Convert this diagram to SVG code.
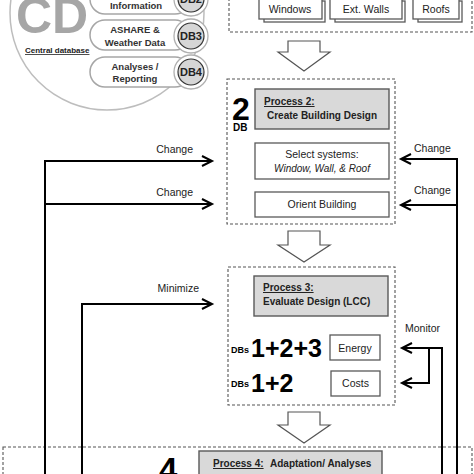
<svg xmlns="http://www.w3.org/2000/svg" width="474" height="474" viewBox="0 0 474 474">
<defs>
<marker id="ah" markerUnits="userSpaceOnUse" markerWidth="14" markerHeight="14" refX="11" refY="6" orient="auto">
<path d="M1,1 L11,6 L1,11" fill="none" stroke="#000" stroke-width="2"/>
</marker>
</defs>
<style>
text{font-family:"Liberation Sans",Arial,sans-serif;fill:#222}
.dash{fill:none;stroke:#555;stroke-width:1.1;stroke-dasharray:3,2}
.gbox{fill:#d9d9d9;stroke:#595959;stroke-width:1.4}
.wbox{fill:#fff;stroke:#595959;stroke-width:1.3}
.lbl{font-size:10.5px}
.b{font-weight:bold}
.c{text-anchor:middle}
.pill{fill:#fff;stroke:#a6a6a6;stroke-width:1.5}
.ring{fill:#fff;stroke:#b0b0b0;stroke-width:1.3}
.dbc{fill:#d6d6d6;stroke:#333;stroke-width:1.2}
.pt{font-size:9.5px;font-weight:bold;text-anchor:middle;fill:#333}
.dbt{font-size:11px;font-weight:bold;text-anchor:middle;fill:#222}
.conn{fill:none;stroke:#000;stroke-width:2}
.blk{fill:#fff;stroke:#555;stroke-width:1.2}
</style>
<rect width="474" height="474" fill="#fff"/>

<g id="central-db">
<circle cx="107" cy="13" r="97" fill="#fff" stroke="#bdbdbd" stroke-width="1.5"/>
<text x="16" y="33" font-size="50" font-weight="bold" style="fill:#a6a6a6">CD</text>
<text x="25" y="53" font-size="8" font-weight="bold" text-decoration="underline">Central database</text>
</g>
<g id="db2">
<rect class="pill" x="90" y="-16" width="100" height="30" rx="15"/>
<circle class="ring" cx="191" cy="-1" r="17"/>
<circle class="dbc" cx="191" cy="-1" r="13"/>
<text class="pt" x="136" y="9">Information</text>
<text class="dbt" x="191" y="3">DB2</text>
</g>
<g id="db3">
<rect class="pill" x="90" y="20" width="100" height="30" rx="15"/>
<circle class="ring" cx="191" cy="36" r="17"/>
<circle class="dbc" cx="191" cy="36" r="13"/>
<text class="pt" x="135" y="33">ASHARE &amp;</text>
<text class="pt" x="135" y="45.5">Weather Data</text>
<text class="dbt" x="191" y="40">DB3</text>
</g>
<g id="db4">
<rect class="pill" x="90" y="57" width="100" height="30" rx="15"/>
<circle class="ring" cx="191" cy="72" r="17"/>
<circle class="dbc" cx="191" cy="72" r="13"/>
<text class="pt" x="135" y="70">Analyses /</text>
<text class="pt" x="135" y="82">Reporting</text>
<text class="dbt" x="191" y="76">DB4</text>
</g>

<g id="process1">
<rect class="dash" x="229" y="-6" width="243" height="38"/>
<rect class="wbox" x="264" y="1" width="61" height="21"/>
<rect class="wbox" x="259" y="-5" width="63" height="24"/>
<text class="lbl c" x="290" y="12.5">Windows</text>
<rect class="wbox" x="335" y="1" width="70" height="21"/>
<rect class="wbox" x="330" y="-5" width="72" height="24"/>
<text class="lbl c" x="366" y="12.5">Ext. Walls</text>
<rect class="wbox" x="418" y="1" width="44" height="21"/>
<rect class="wbox" x="413" y="-5" width="46" height="24"/>
<text class="lbl c" x="436" y="12.5">Roofs</text>
</g>

<g id="flow-arrows">
<polygon class="blk" points="288,41 320,41 320,52 330,52 304,71 278,52 288,52"/>
<polygon class="blk" points="288,231 320,231 320,245 330,245 304,262 278,245 288,245"/>
<polygon class="blk" points="288,412 320,412 320,425 330,425 304,443 278,425 288,425"/>
</g>

<g id="process2">
<rect class="dash" x="227" y="79" width="168" height="145"/>
<text x="232" y="120" font-size="32" font-weight="bold" style="fill:#000">2</text>
<text x="233" y="131" font-size="10" font-weight="bold" style="fill:#000">DB</text>
<rect class="gbox" x="255" y="89" width="134" height="40"/>
<text class="b" x="264" y="105" font-size="10" text-decoration="underline">Process 2:</text>
<text class="b c" x="322" y="119" font-size="10">Create Building Design</text>
<rect class="wbox" x="255" y="143" width="134" height="36"/>
<text class="lbl c" x="322" y="158">Select systems:</text>
<text class="c" x="322" y="172" font-size="10" font-style="italic">Window, Wall, &amp; Roof</text>
<rect class="wbox" x="255" y="192" width="134" height="25"/>
<text class="lbl c" x="322" y="207.5">Orient Building</text>
</g>

<g id="process3">
<rect class="dash" x="228" y="267" width="167" height="138"/>
<rect class="gbox" x="254" y="276" width="134" height="40"/>
<text class="b" x="263" y="291" font-size="10" text-decoration="underline">Process 3:</text>
<text class="b" x="263" y="305" font-size="10">Evaluate Design (LCC)</text>
<text x="231" y="353" font-size="9" font-weight="bold" style="fill:#000">DBs</text>
<text x="251" y="357" font-size="25" font-weight="bold" style="fill:#000">1+2+3</text>
<text x="231" y="387" font-size="9" font-weight="bold" style="fill:#000">DBs</text>
<text x="251" y="392" font-size="25" font-weight="bold" style="fill:#000">1+2</text>
<rect class="wbox" x="330" y="335" width="50" height="25"/>
<text class="lbl c" x="355" y="351.5">Energy</text>
<rect class="wbox" x="331" y="371" width="49" height="25"/>
<text class="lbl c" x="355.5" y="387">Costs</text>
</g>

<g id="process4">
<rect class="dash" x="3" y="447" width="469" height="40"/>
<text x="159" y="481" font-size="33" font-weight="bold" style="fill:#000">4</text>
<rect class="gbox" x="199" y="451" width="183" height="40"/>
<text class="b" x="213" y="467" font-size="10" text-decoration="underline">Process 4:</text>
<text class="b" x="270" y="467" font-size="10">Adaptation/ Analyses</text>
</g>

<g id="connectors">
<path class="conn" d="M45,475 V161 H212" marker-end="url(#ah)"/>
<path class="conn" d="M45,204 H212" marker-end="url(#ah)"/>
<path class="conn" d="M82,475 V304 H212" marker-end="url(#ah)"/>
<path class="conn" d="M457,475 V159 H401" marker-end="url(#ah)"/>
<path class="conn" d="M457,205 H401" marker-end="url(#ah)"/>
<path class="conn" d="M442,475 V348 H402" marker-end="url(#ah)"/>
<path class="conn" d="M429,348 V383 H402" marker-end="url(#ah)"/>
<text class="lbl" x="193" y="153" text-anchor="end">Change</text>
<text class="lbl" x="193" y="196" text-anchor="end">Change</text>
<text class="lbl" x="199" y="292" text-anchor="end">Minimize</text>
<text class="lbl" x="414" y="152">Change</text>
<text class="lbl" x="414" y="194">Change</text>
<text class="lbl" x="405" y="332">Monitor</text>
</g>
</svg>
